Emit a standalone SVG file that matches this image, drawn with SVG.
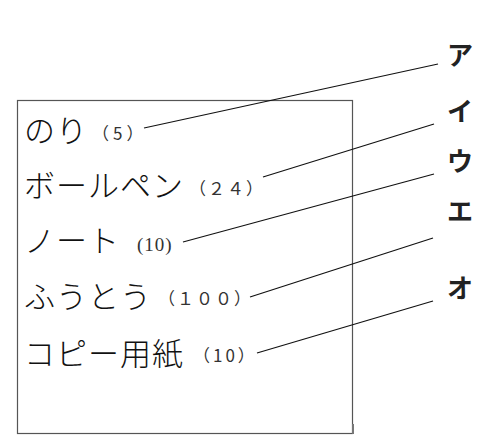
<svg xmlns="http://www.w3.org/2000/svg" width="496" height="443" viewBox="0 0 496 443">
<style>
.item{font-family:"Noto Sans CJK JP",sans-serif;font-size:31px;font-weight:300;fill:#111;letter-spacing:1px}
.num{font-family:"Noto Sans CJK JP",sans-serif;font-size:17px;fill:#333}
.nums{font-family:"Liberation Serif","Noto Sans CJK JP",serif;font-size:19px;fill:#333;letter-spacing:1px}
.lab{font-family:"Noto Sans CJK JP",sans-serif;font-size:26px;font-weight:700;fill:#222;text-anchor:middle}
.ln{stroke:#111;stroke-width:1.2;fill:none}
</style>
<rect x="17.5" y="100.5" width="335" height="333" fill="none" stroke="#555" stroke-width="1.2"/>
<g id="items">
<g id="nori"><text class="item" x="24" y="142">のり</text><text class="num" x="92" y="140" letter-spacing="4">（5）</text></g>
<g id="ballpen"><text class="item" x="24" y="197">ボールペン</text><text class="num" x="189" y="195" letter-spacing="2">（２４）</text></g>
<g id="note"><text class="item" x="24" y="252">ノート</text><text class="nums" x="137" y="251">(10)</text></g>
<g id="futou"><text class="item" x="24" y="308">ふうとう</text><text class="num" x="158" y="305" letter-spacing="2">（１００）</text></g>
<g id="copy"><text class="item" x="24" y="365">コピー用紙</text><text class="num" x="193" y="362" letter-spacing="3">（10）</text></g>
</g>
<g id="labels">
<g id="a"><text class="lab" x="460" y="65">ア</text></g>
<g id="i"><text class="lab" x="460" y="121">イ</text></g>
<g id="u"><text class="lab" x="460" y="171">ウ</text></g>
<g id="e"><text class="lab" x="460" y="221">エ</text></g>
<g id="o"><text class="lab" x="460" y="298">オ</text></g>
</g>
<g id="connectors" class="ln">
<line x1="144" y1="128" x2="438" y2="64"/>
<line x1="263" y1="177" x2="434" y2="124"/>
<line x1="183" y1="242" x2="434" y2="174"/>
<line x1="250" y1="297" x2="433" y2="238"/>
<line x1="257" y1="353" x2="433" y2="301"/>
</g>
<line x1="353" y1="424" x2="353" y2="434" stroke="#777" stroke-width="2"/>
</svg>
